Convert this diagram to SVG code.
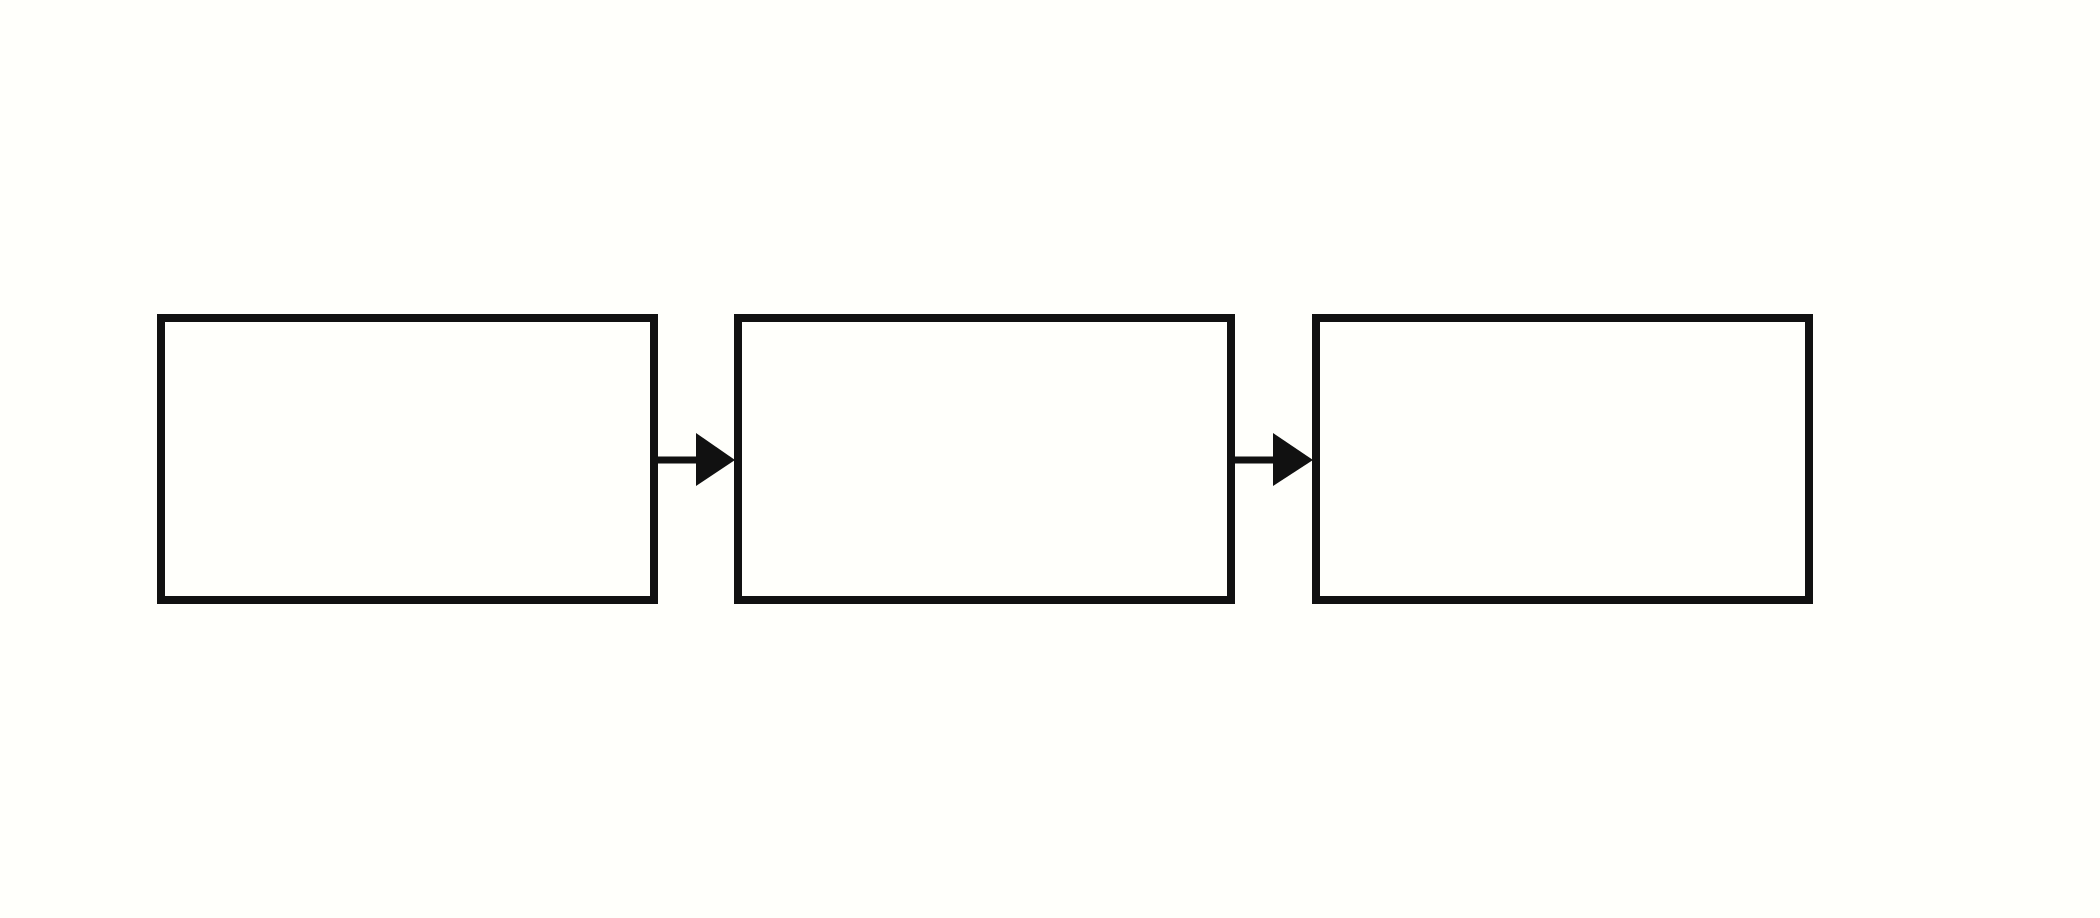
<svg xmlns="http://www.w3.org/2000/svg" width="2100" height="918" viewBox="0 0 2100 918">
<style>
.node rect{fill:#fffffb;stroke:#111111;stroke-width:8}
.edge line{stroke:#111111;stroke-width:7}
.edge polygon{fill:#111111}
</style>
<rect x="0" y="0" width="2100" height="918" fill="#fffffb"/>
<g id="node1" class="node"><rect x="161" y="318" width="493" height="282"/></g>
<g id="node2" class="node"><rect x="738" y="318" width="493" height="282"/></g>
<g id="node3" class="node"><rect x="1316" y="318" width="493" height="282"/></g>
<g id="connectors" class="edge">
<line x1="654" y1="460" x2="700" y2="460"/>
<polygon points="696,433 735,460 696,486"/>
<line x1="1231" y1="460" x2="1277" y2="460"/>
<polygon points="1273,433 1313,460 1273,486"/>
</g>
</svg>
